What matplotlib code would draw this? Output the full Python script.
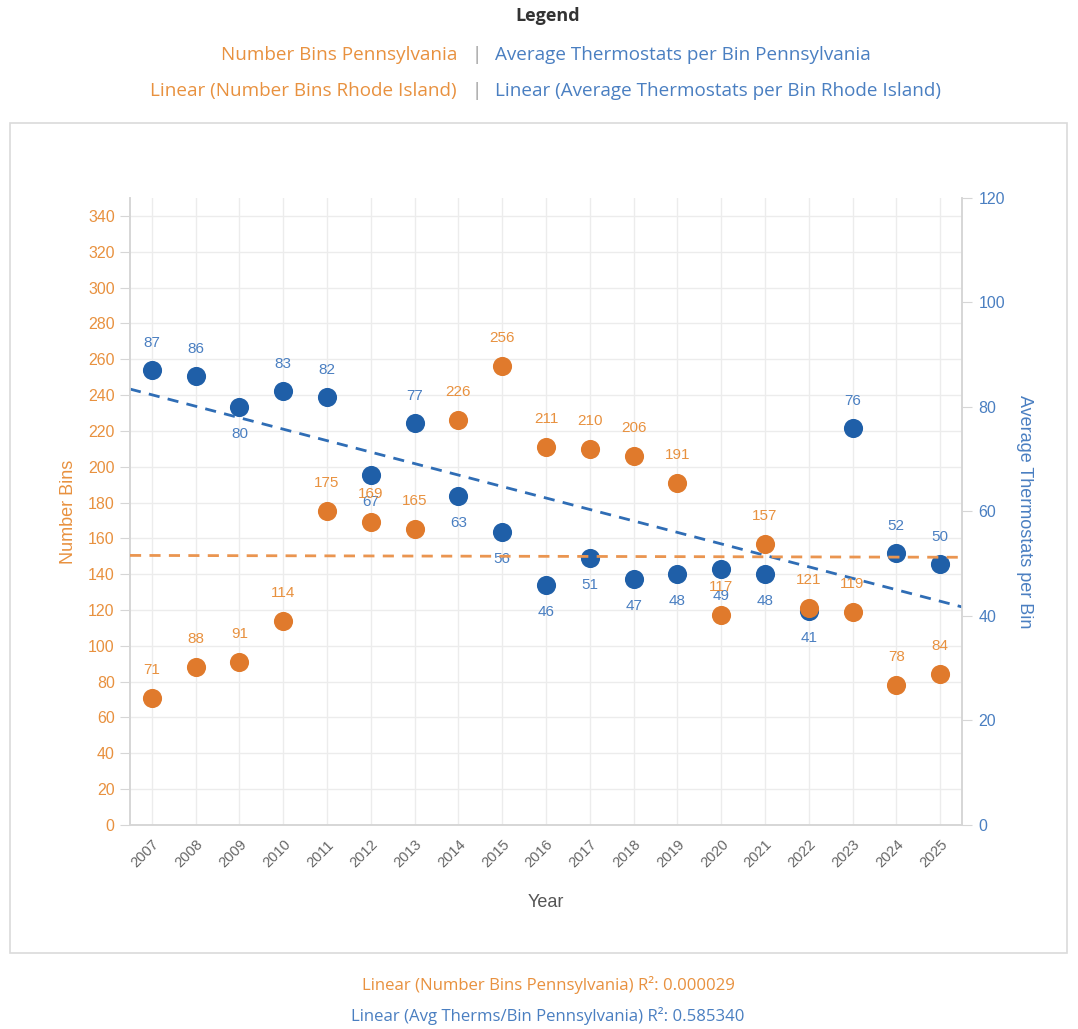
import numpy as np
import matplotlib
matplotlib.use("Agg")
import matplotlib.pyplot as plt
from matplotlib.patches import Rectangle

# data
years = ["2007", "2008", "2009", "2010", "2011", "2012", "2013", "2014", "2015", "2016",
         "2017", "2018", "2019", "2020", "2021", "2022", "2023", "2024", "2025"]
number_bins = [71, 88, 91, 114, 175, 169, 165, 226, 256, 211,
               210, 206, 191, 117, 157, 121, 119, 78, 84]
avg_therms = [87, 86, 80, 83, 82, 67, 77, 63, 56, 46,
              51, 47, 48, 49, 48, 41, 76, 52, 50]
# which blue labels sit below the dot
therm_label_below = [False, False, True, False, False, True, False, True, True, True,
                     True, True, True, True, True, True, False, False, False]
r2_bins = "0.000029"
r2_therms = "0.585340"

ORANGE = "#E07A2C"
ORANGE_TXT = "#E8913F"
BLUE = "#1F5FA8"
BLUE_TXT = "#4A7FC1"
GRID = "#ECECEC"
SPINE = "#D6D6D6"

plt.rcParams["font.family"] = ["Liberation Sans", "DejaVu Sans"]
UI = ["Open Sans", "DejaVu Sans"]

fig = plt.figure(figsize=(10.78, 10.29), dpi=100)

# outer chart box
fig.patches.append(Rectangle((0.0093, 0.0739), 0.9805, 0.8066, transform=fig.transFigure,
                             fill=False, edgecolor="#DADADA", linewidth=1.2))

ax = fig.add_axes([0.1206, 0.1983, 0.7718, 0.6093])   # blue, right scale
ax2 = ax.twinx()                                        # orange, left scale
ax.yaxis.tick_right()
ax.yaxis.set_label_position("right")
ax2.yaxis.tick_left()
ax2.yaxis.set_label_position("left")

x = np.arange(len(years))

# grid on the back axes
ax.set_axisbelow(True)
ax.set_xticks(x)
ax.grid(axis="x", color=GRID, linewidth=1)
for v in range(0, 341, 20):
    ax.axhline(v * 120 / 350, color=GRID, linewidth=1, zorder=0)

# blue series
ax.scatter(x, avg_therms, s=190, color=BLUE, zorder=3, linewidths=0)
for xi, v, below in zip(x, avg_therms, therm_label_below):
    off = -27 if below else 27
    ax.annotate(str(v), (xi, v), xytext=(0, off), textcoords="offset pixels",
                ha="center", va="center", color=BLUE_TXT, fontsize=11)
k, b = np.polyfit(x, avg_therms, 1)
xl = np.array([-0.5, 18.5])
ax.plot(xl, k * xl + b, color="#2F6DB5", linestyle=(0, (4, 3)), linewidth=2, zorder=4)

# orange series
ax2.scatter(x, number_bins, s=190, color=ORANGE, zorder=3, linewidths=0)
for xi, v in zip(x, number_bins):
    ax2.annotate(str(v), (xi, v), xytext=(0, 28), textcoords="offset pixels",
                 ha="center", va="center", color=ORANGE_TXT, fontsize=11)
k2, b2 = np.polyfit(x, number_bins, 1)
ax2.plot(xl, k2 * xl + b2, color="#EA9550", linestyle=(0, (4, 3)), linewidth=2, zorder=4)

ax.set_xlim(-0.5, 18.5)
ax.set_ylim(0, 120)
ax2.set_ylim(0, 350)

ax.set_xticklabels(years, rotation=45, ha="right", rotation_mode="anchor", color="#666666", fontsize=10.5)
ax.tick_params(axis="x", length=0, pad=9)
ax.set_yticks(range(0, 121, 20))
ax.tick_params(axis="y", colors=SPINE, labelcolor=BLUE_TXT, labelsize=11.5, length=7, pad=5)
ax2.set_yticks(range(0, 341, 20))
ax2.tick_params(axis="y", colors=SPINE, labelcolor=ORANGE_TXT, labelsize=11.5, length=7, pad=4)

for a in (ax, ax2):
    a.spines["top"].set_visible(False)
    for side in ("left", "right", "bottom"):
        a.spines[side].set_color(SPINE)
        a.spines[side].set_linewidth(1.2)

ax.set_xlabel("Year", color="#555555", fontsize=13, labelpad=17)
ax2.set_ylabel("Number Bins", color=ORANGE_TXT, fontsize=13, labelpad=8)
ax.set_ylabel("Average Thermostats per Bin", color=BLUE_TXT, fontsize=13, rotation=-90,
              labelpad=20)

# legend header
fig.text(0.5083, 1 - 16 / 1029, "Legend", ha="center", va="center", fontsize=13,
         fontweight="bold", color="#333333", family=UI)
legend_left = ["Number Bins Pennsylvania", "Linear (Number Bins Rhode Island)"]
legend_right = ["Average Thermostats per Bin Pennsylvania",
                "Linear (Average Thermostats per Bin Rhode Island)"]
for row, (lt, rt) in enumerate(zip(legend_left, legend_right)):
    yf = 1 - (55 + 36 * row) / 1029
    sep = 0.4425
    fig.text(sep - 0.0185, yf, lt, ha="right", va="center", fontsize=13.6, color=ORANGE_TXT, family=UI)
    fig.text(sep, yf, "|", ha="center", va="center", fontsize=13.6, color="#999999", family=UI)
    fig.text(sep + 0.0165, yf, rt, ha="left", va="center", fontsize=13.6, color=BLUE_TXT, family=UI)

# r squared notes
fig.text(0.5083, 1 - 985 / 1029, "Linear (Number Bins Pennsylvania) R\u00b2: " + r2_bins,
         ha="center", va="center", fontsize=12.1, color=ORANGE_TXT, family=UI)
fig.text(0.5083, 1 - 1016 / 1029, "Linear (Avg Therms/Bin Pennsylvania) R\u00b2: " + r2_therms,
         ha="center", va="center", fontsize=12.1, color=BLUE_TXT, family=UI)

fig.savefig("out.png", dpi=100)
